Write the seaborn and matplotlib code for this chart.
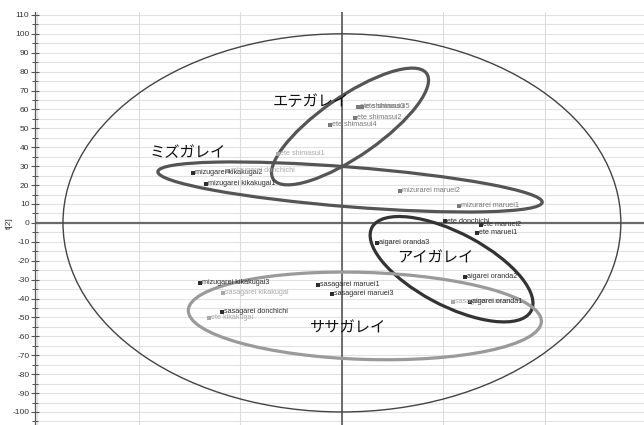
import numpy as np
import pandas as pd
import seaborn as sns
import matplotlib
matplotlib.use("Agg")
import matplotlib.pyplot as plt
from matplotlib.patches import Ellipse

# Score values t[1] / t[2] for each sample
sample_names = [
    "ete shimasui3", "ete shimasui5", "ete shimasui2", "ete shimasui4", "ete shimasui1",
    "mizugarei kikakugai2", "mizugarei donchichi", "mizugarei kikakugai1",
    "mizurarei maruei2", "mizurarei maruei1",
    "ete donchichi", "ete maruei2", "ete maruei1",
    "aigarei oranda3", "aigarei oranda2", "sasagarei maruei2", "aigarei oranda1",
    "mizugarei kikakugai3", "sasagarei kikakugai", "sasagarei maruei1", "sasagarei maruei3",
    "sasagarei donchichi", "ete kikakugai",
]
t1_values = [
    7.9, 9.9, 6.4, -5.9, -31.5,
    -73.4, -56.0, -67.0,
    28.6, 57.6,
    50.7, 68.5, 66.5,
    17.2, 60.6, 54.7, 63.0,
    -70.0, -58.6, -11.8, -4.9,
    -59.1, -65.5,
]
t2_values = [
    61.4, 61.4, 55.6, 51.9, 36.5,
    26.5, 27.5, 20.6,
    16.9, 9.0,
    1.0, -1.0, -5.3,
    -10.6, -28.6, -41.8, -41.8,
    -31.7, -37.0, -32.8, -37.6,
    -47.1, -50.3,
]
shade_groups = [
    "mid", "mid", "mid", "mid", "pale",
    "dark", "pale", "dark",
    "mid", "mid",
    "dark", "dark", "dark",
    "dark", "dark", "pale", "dark",
    "dark", "pale", "dark", "dark",
    "dark", "pale",
]

# Group outlines: name, centre (t1, t2), full width, full height, angle, colour, label pos
group_names = ["エテガレイ", "ミズガレイ", "アイガレイ", "ササガレイ"]
group_centres = [(4.0, 51.0), (4.0, 19.0), (54.0, -24.5), (11.3, -49.2)]
group_widths = [94.0, 190.0, 90.0, 174.0]
group_heights = [31.0, 21.0, 38.0, 46.0]
group_angles = [37.0, -4.9, -30.0, -2.0]
group_colours = ["#555555", "#555555", "#333333", "#9a9a9a"]
group_label_pos = [(-34.0, 64.0), (-94.5, 37.0), (27.0, -18.5), (-16.0, -55.5)]

# Hotelling T2 ellipse semi-axes
hotelling_t1 = 137.4
hotelling_t2 = 100.0

palette = {"dark": "#2e2e2e", "mid": "#7a7a7a", "pale": "#a9a9a9"}

df = pd.DataFrame({"name": sample_names, "t1": t1_values, "t2": t2_values,
                   "shade": shade_groups})

sns.set_style("white")
plt.rcParams["font.family"] = ["Liberation Sans", "DejaVu Sans"]
plt.rcParams["axes.unicode_minus"] = False

fig = plt.figure(figsize=(6.44, 4.25), dpi=100)
ax = fig.add_axes([0.0543, 0.0, 0.9457, 0.972])
ax.set_xlim(-151.2, 148.8)
ax.set_ylim(-106.9, 111.6)

# grid
for yv in np.arange(-105, 111, 5):
    ax.axhline(yv, color="#e2e2e2", lw=0.8, zorder=0)
for xv in np.arange(-150, 151, 50):
    ax.axvline(xv, color="#dcdcdc", lw=0.8, zorder=0)
ax.axhline(0, color="#6a6a6a", lw=1.6, zorder=1)
ax.axvline(0, color="#4a4a4a", lw=1.1, zorder=1)

# Hotelling ellipse
ax.add_patch(Ellipse((0, 0), 2 * hotelling_t1, 2 * hotelling_t2, fill=False,
                     ec="#444444", lw=1.0, zorder=2))

sns.scatterplot(data=df, x="t1", y="t2", hue="shade", palette=palette, marker="s",
                s=7, linewidth=0, legend=False, ax=ax, zorder=4)
for _, r in df.iterrows():
    ax.annotate(r["name"], (r["t1"], r["t2"]), xytext=(1.8, 0), textcoords="offset points",
                va="center", ha="left", fontsize=5.2, color=palette[r["shade"]], zorder=5)

for i, gname in enumerate(group_names):
    ax.add_patch(Ellipse(group_centres[i], group_widths[i], group_heights[i],
                         angle=group_angles[i], fill=False, ec=group_colours[i],
                         lw=2.3, zorder=3))
    ax.text(group_label_pos[i][0], group_label_pos[i][1], gname, fontsize=11,
            color="#111111", va="center", ha="left", zorder=6,
            family=["Noto Sans CJK JP", "DejaVu Sans"])

ax.set_yticks(np.arange(-100, 111, 10))
ax.set_yticks(np.arange(-105, 111, 5), minor=True)
ax.set_xticks([])
ax.tick_params(axis="y", which="major", direction="inout", length=6, width=0.8,
               color="#555555", labelsize=6, labelcolor="#333333", pad=1, left=True)
ax.tick_params(axis="y", which="minor", direction="inout", length=4, width=0.7,
               color="#555555", left=True)
for s in ["top", "right", "bottom"]:
    ax.spines[s].set_visible(False)
ax.spines["left"].set_color("#555555")
ax.spines["left"].set_linewidth(0.9)
ax.set_ylabel("t[2]", fontsize=6, color="#333333")
ax.yaxis.set_label_coords(-0.036, 0.489)
ax.set_xlabel("")

fig.savefig("out.png", dpi=100)
